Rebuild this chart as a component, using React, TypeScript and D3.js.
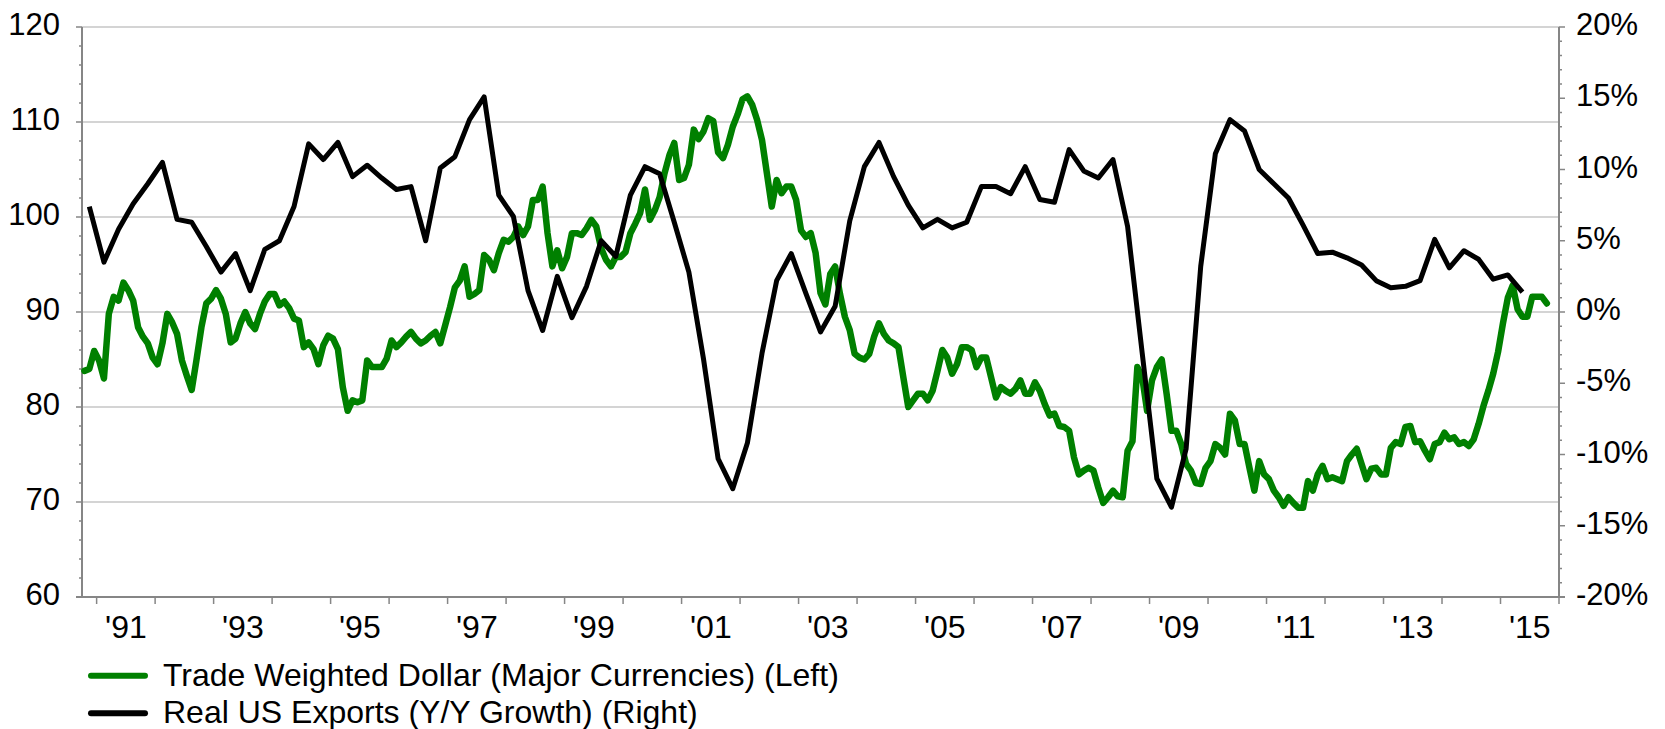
import * as d3 from "d3";

// Trade weighted dollar, major currencies, monthly from Oct 1990 (index)
const dollarStart = 1990 + 9 / 12;
const dollarMonthly: number[] = [
  83.8, 84.0, 85.9, // 1990 Oct-Dec
  84.9, 83.0, 89.8, 91.6, 91.2, 93.1, 92.3, 91.2, 88.4, 87.4, 86.7, 85.2, // 1991
  84.5, 86.7, 89.8, 88.9, 87.7, 84.9, 83.3, 81.8, 85.0, 88.4, 90.9, 91.4, // 1992
  92.3, 91.4, 89.8, 86.8, 87.2, 88.8, 90.0, 88.8, 88.2, 89.8, 91.1, 91.9, // 1993
  91.9, 90.7, 91.1, 90.4, 89.3, 89.1, 86.3, 86.8, 86.1, 84.5, 86.5, 87.5, // 1994
  87.2, 86.1, 82.1, 79.6, 80.7, 80.5, 80.7, 84.9, 84.2, 84.2, 84.2, 85.1, // 1995
  87.0, 86.3, 86.8, 87.4, 87.9, 87.2, 86.7, 87.0, 87.5, 87.9, 86.7, 88.6, // 1996
  90.5, 92.6, 93.3, 94.8, 91.6, 91.9, 92.3, 96.0, 95.5, 94.4, 96.2, 97.6, // 1997
  97.4, 97.9, 99.0, 98.1, 99.0, 101.8, 101.8, 103.2, 98.3, 94.8, 96.5, 94.6, // 1998
  95.8, 98.3, 98.3, 98.1, 98.8, 99.7, 99.0, 96.7, 95.5, 94.8, 95.8, 95.8, // 1999
  96.3, 98.3, 99.3, 100.4, 102.9, 99.7, 100.7, 102.1, 104.6, 106.5, 107.8, 103.9, // 2000
  104.1, 105.5, 109.2, 108.2, 109.0, 110.4, 110.1, 106.8, 106.2, 107.6, 109.5, 110.8, // 2001
  112.4, 112.7, 111.8, 110.2, 108.1, 104.6, 101.1, 103.9, 102.5, 103.2, 103.2, 101.8, // 2002
  98.6, 97.9, 98.3, 96.2, 92.0, 90.8, 94.0, 94.8, 91.9, 89.5, 88.1, 85.6, // 2003
  85.2, 85.0, 85.6, 87.4, 88.8, 87.7, 87.0, 86.7, 86.3, 83.1, 80.0, 80.7, // 2004
  81.4, 81.4, 80.7, 81.7, 83.8, 86.0, 85.2, 83.5, 84.5, 86.3, 86.3, 86.0, // 2005
  84.2, 85.2, 85.2, 83.1, 81.0, 82.1, 81.7, 81.4, 81.9, 82.8, 81.4, 81.4, // 2006
  82.6, 81.7, 80.3, 79.1, 79.3, 78.0, 77.9, 77.5, 74.7, 72.9, 73.3, 73.6, // 2007
  73.3, 71.5, 69.9, 70.5, 71.2, 70.6, 70.5, 75.4, 76.4, 84.2, 83.1, 79.6, // 2008
  82.8, 84.2, 85.0, 81.4, 77.5, 77.5, 76.1, 74.0, 73.3, 72.0, 71.9, 73.6, // 2009
  74.3, 76.1, 75.7, 75.0, 79.3, 78.6, 76.1, 76.1, 73.6, 71.2, 74.3, 72.9, // 2010
  72.4, 71.2, 70.5, 69.6, 70.5, 69.9, 69.4, 69.4, 72.2, 71.2, 72.9, 73.8, // 2011
  72.4, 72.6, 72.4, 72.2, 74.3, 75.0, 75.6, 74.0, 72.4, 73.5, 73.6, 72.9, // 2012
  72.9, 75.7, 76.3, 76.1, 77.9, 78.0, 76.3, 76.4, 75.4, 74.5, 76.1, 76.3, // 2013
  77.3, 76.6, 76.8, 76.1, 76.3, 75.9, 76.6, 78.2, 80.1, 81.7, 83.5, 85.8, // 2014
  88.8, 91.5, 92.8, 90.3, 89.5, 89.5, 91.6, 91.6, 91.6, 90.9, // 2015 Jan-Oct
];

// Real US exports, y/y growth (%), quarterly from 1990 Q4
const exportsStart = 1990.75;
const exportsQuarterly: number[] = [
  7.4, 3.5, 5.8, 7.6, 9.0, 10.5, 6.5, 6.3, 4.6, 2.8,
  4.1, 1.5, 4.4, 5.0, 7.4, 11.8, 10.7, 11.9, 9.5, 10.3,
  9.4, 8.6, 8.8, 5.0, 10.1, 10.9, 13.5, 15.1, 8.2, 6.7,
  1.5, -1.3, 2.5, -0.4, 1.8, 5.0, 3.9, 8.2, 10.2, 9.7,
  6.3, 2.8, -3.3, -10.3, -12.4, -9.2, -2.9, 2.2, 4.1, 1.3,
  -1.4, 0.4, 6.4, 10.2, 11.9, 9.5, 7.5, 5.9, 6.5, 5.9,
  6.3, 8.8, 8.8, 8.3, 10.2, 7.9, 7.7, 11.4, 9.9, 9.4,
  10.7, 6.0, -2.9, -11.7, -13.7, -9.6, 3.2, 11.1, 13.5, 12.7,
  10.0, 9.0, 8.0, 6.1, 4.1, 4.2, 3.8, 3.3, 2.2, 1.7,
  1.8, 2.2, 5.1, 3.1, 4.3, 3.7, 2.3, 2.6, 1.4,
];

const leftTicks = [60, 70, 80, 90, 100, 110, 120];
const rightTicks = [-20, -15, -10, -5, 0, 5, 10, 15, 20];
const yearTicks = d3.range(1991, 2017);
const labelYears = d3.range(1991, 2016, 2);

const legendItems = [
  { label: "Trade Weighted Dollar (Major Currencies) (Left)", color: "#008000" },
  { label: "Real US Exports (Y/Y Growth) (Right)", color: "#000000" },
];

const W = 1665;
const H = 729;
const plot = { left: 82, right: 1559, top: 27, bottom: 597 };
const axisColor = "#868686";
const gridColor = "#c6c6c6";
const font = "'Liberation Sans', Arial, sans-serif";

export default function App() {
  const x = d3.scaleLinear().domain([1990.75, 2016]).range([plot.left, plot.right]);
  const yL = d3.scaleLinear().domain([60, 120]).range([plot.bottom, plot.top]);
  const yR = d3.scaleLinear().domain([-20, 20]).range([plot.bottom, plot.top]);

  const dollarLine = d3
    .line<number>()
    .x((_, i) => x(dollarStart + i / 12 + 1 / 24))
    .y((d) => yL(d));
  const exportsLine = d3
    .line<number>()
    .x((_, i) => x(exportsStart + i * 0.25 + 0.125))
    .y((d) => yR(d));

  const leftMinor = d3.range(62, 120, 2).filter((v) => v % 10 !== 0);
  const rightMinor = d3.range(-19, 20, 1).filter((v) => v % 5 !== 0);

  return (
    <svg
      width={W}
      height={H}
      viewBox={`0 0 ${W} ${H}`}
      style={{ position: "absolute", left: 0, top: 0, background: "#fff" }}
      fontFamily={font}
    >
      {/* gridlines */}
      {leftTicks
        .filter((v) => v > 60)
        .map((v) => (
          <line key={v} x1={plot.left} x2={plot.right} y1={yL(v)} y2={yL(v)} stroke={gridColor} strokeWidth={1.5} />
        ))}

      {/* axes */}
      <line x1={plot.left} x2={plot.left} y1={plot.top} y2={plot.bottom} stroke={axisColor} strokeWidth={2} />
      <line x1={plot.right} x2={plot.right} y1={plot.top} y2={plot.bottom} stroke={axisColor} strokeWidth={2} />
      <line x1={plot.left - 6} x2={plot.right + 6} y1={plot.bottom} y2={plot.bottom} stroke={axisColor} strokeWidth={2} />

      {leftTicks.map((v) => (
        <g key={v}>
          <line x1={plot.left - 6} x2={plot.left} y1={yL(v)} y2={yL(v)} stroke={axisColor} strokeWidth={1.5} />
          <text x={60} y={yL(v) + 8} textAnchor="end" fontSize={31} fill="#000">
            {v}
          </text>
        </g>
      ))}
      {leftMinor.map((v) => (
        <line key={v} x1={plot.left - 3} x2={plot.left} y1={yL(v)} y2={yL(v)} stroke={axisColor} strokeWidth={1.5} />
      ))}

      {rightTicks.map((v) => (
        <g key={v}>
          <line x1={plot.right} x2={plot.right + 6} y1={yR(v)} y2={yR(v)} stroke={axisColor} strokeWidth={1.5} />
          <text x={1576} y={yR(v) + 8} textAnchor="start" fontSize={31} fill="#000">
            {`${v}%`}
          </text>
        </g>
      ))}
      {rightMinor.map((v) => (
        <line key={v} x1={plot.right} x2={plot.right + 3} y1={yR(v)} y2={yR(v)} stroke={axisColor} strokeWidth={1.5} />
      ))}

      {yearTicks.map((yr) => (
        <line key={yr} x1={x(yr)} x2={x(yr)} y1={plot.bottom} y2={plot.bottom + 7} stroke={axisColor} strokeWidth={1.5} />
      ))}
      {labelYears.map((yr) => (
        <text key={yr} x={x(yr + 0.5)} y={638} textAnchor="middle" fontSize={32} fill="#000">
          {`'${String(yr % 100).padStart(2, "0")}`}
        </text>
      ))}

      {/* series */}
      <path d={dollarLine(dollarMonthly) ?? ""} fill="none" stroke="#008000" strokeWidth={6.5} strokeLinejoin="round" strokeLinecap="round" />
      <path d={exportsLine(exportsQuarterly) ?? ""} fill="none" stroke="#000" strokeWidth={5} strokeLinejoin="round" />

      {/* legend */}
      {legendItems.map((item, i) => (
        <g key={item.label} transform={`translate(0, ${675.7 + i * 37.6})`}>
          <line x1={91} x2={145} y1={0} y2={0} stroke={item.color} strokeWidth={6} strokeLinecap="round" />
          <text x={163} y={10} fontSize={32} fill="#000">
            {item.label}
          </text>
        </g>
      ))}
    </svg>
  );
}
